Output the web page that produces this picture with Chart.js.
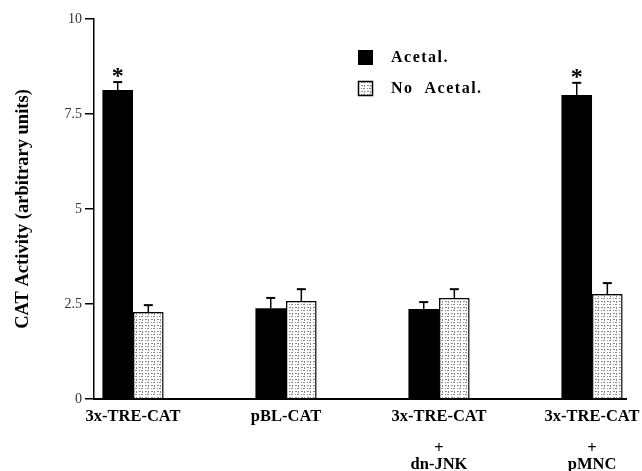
<!DOCTYPE html>
<html>
<head>
<meta charset="utf-8">
<script src="https://cdn.jsdelivr.net/npm/chart.js@4"></script>
<style>
  html, body { margin: 0; padding: 0; background: #fff; }
  #wrap { width: 642px; height: 471px; }
</style>
</head>
<body>
<div id="wrap"><canvas id="c"></canvas></div>
<script>
// Grupos (posição no eixo x linear, 1..4)
const groupPos = [1, 2, 3, 4];
const groupLabels = [
    ['3x-TRE-CAT'],
    ['pBL-CAT'],
    ['3x-TRE-CAT', '', '+', 'dn-JNK'],
    ['3x-TRE-CAT', '', '+', 'pMNC'],
];
const acetalVals = [8.13, 2.39, 2.37, 8.0];
const acetalErr = [8.34, 2.66, 2.55, 8.32];
const noAcetalVals = [2.29, 2.58, 2.66, 2.76];
const noAcetalErr = [2.47, 2.89, 2.89, 3.05];
const asterisks = [true, false, false, true];
const yTicks = [0, 2.5, 5, 7.5, 10];

const SERIF = '"Liberation Serif", "Times New Roman", serif';

// Padrão pontilhado das barras "No Acetal."
function stipple() {
    const t = document.createElement('canvas');
    t.width = 6; t.height = 6;
    const g = t.getContext('2d');
    g.fillStyle = '#fff';
    g.fillRect(0, 0, 6, 6);
    g.fillStyle = '#8a8a8a';
    g.fillRect(1, 1, 2, 1);
    g.fillRect(4, 1, 1, 2);
    g.fillRect(1, 4, 1, 1);
    g.fillRect(3, 4, 2, 1);
    return g.createPattern(t, 'repeat');
}

const toPts = (vals) => vals.map((v, i) => ({ x: groupPos[i], y: v }));

// Barras de erro em "T" + asteriscos
const errorBars = {
    id: 'errorBars',
    afterDatasetsDraw(chart) {
        const ctx = chart.ctx;
        const y = chart.scales.y;
        const errs = [acetalErr, noAcetalErr];
        ctx.save();
        ctx.strokeStyle = '#000';
        chart.data.datasets.forEach((ds, di) => {
            chart.getDatasetMeta(di).data.forEach((el, i) => {
                const top = y.getPixelForValue(errs[di][i]);
                ctx.lineWidth = 1.5;
                ctx.beginPath();
                ctx.moveTo(el.x, el.y);
                ctx.lineTo(el.x, top);
                ctx.stroke();
                ctx.lineWidth = 2;
                ctx.beginPath();
                ctx.moveTo(el.x - 4.5, top);
                ctx.lineTo(el.x + 4.5, top);
                ctx.stroke();
                if (di === 0 && asterisks[i]) {
                    ctx.fillStyle = '#000';
                    ctx.font = 'bold 24px ' + SERIF;
                    ctx.textAlign = 'center';
                    ctx.textBaseline = 'middle';
                    ctx.fillText('*', el.x, top - 5);
                }
            });
        });
        ctx.restore();
    },
};

// Legenda desenhada à mão (dentro da área do gráfico)
const legendBox = {
    id: 'legendBox',
    afterDraw(chart) {
        const ctx = chart.ctx;
        ctx.save();
        ctx.fillStyle = '#000';
        ctx.fillRect(358, 50, 15, 15);
        ctx.fillStyle = stipple();
        ctx.fillRect(358, 81, 15, 15);
        ctx.strokeStyle = '#000';
        ctx.lineWidth = 1.5;
        ctx.strokeRect(358.5, 81.5, 14, 14);
        ctx.fillStyle = '#000';
        ctx.font = 'bold 16px ' + SERIF;
        ctx.letterSpacing = '1.5px';
        ctx.textBaseline = 'middle';
        ctx.fillText('Acetal.', 391, 58);
        ctx.fillText('No  Acetal.', 391, 89);
        ctx.restore();
    },
};

new Chart(document.getElementById('c'), {
    type: 'bar',
    data: {
        datasets: [
            {
                label: 'Acetal.',
                data: toPts(acetalVals),
                backgroundColor: '#000',
                borderWidth: 0,
            },
            {
                label: 'No Acetal.',
                data: toPts(noAcetalVals),
                backgroundColor: stipple(),
                borderColor: '#000',
                borderWidth: 1.5,
                borderSkipped: 'bottom',
            },
        ],
    },
    options: {
        responsive: true,
        maintainAspectRatio: false,
        animation: false,
        categoryPercentage: 0.4,
        barPercentage: 1,
        layout: { padding: { top: 19, right: 16, left: 0, bottom: 0 } },
        plugins: { legend: { display: false }, tooltip: { enabled: false } },
        scales: {
            x: {
                type: 'linear',
                offset: false,
                min: 0.745,
                max: 4.222,
                afterBuildTicks: (s) => { s.ticks = groupPos.map((v) => ({ value: v })); },
                afterFit: (s) => { s.height = 72; s.paddingLeft = 0; s.paddingRight = 0; },
                grid: { display: false, offset: false },
                border: { display: true, color: '#000', width: 2 },
                ticks: {
                    color: '#000',
                    padding: 2,
                    maxRotation: 0,
                    autoSkip: false,
                    font: { family: SERIF, size: 16.5, weight: 'bold', lineHeight: 0.97 },
                    callback: (v) => groupLabels[groupPos.indexOf(v)] || '',
                },
            },
            y: {
                min: 0,
                max: 10,
                afterBuildTicks: (s) => { s.ticks = yTicks.map((v) => ({ value: v })); },
                afterFit: (s) => { s.width = 94; },
                grid: { drawOnChartArea: false, tickLength: 9, color: '#000', lineWidth: 1.5 },
                border: { display: true, color: '#000', width: 1.5 },
                ticks: {
                    color: '#333',
                    padding: 3,
                    font: { family: SERIF, size: 14 },
                },
                title: {
                    display: true,
                    text: 'CAT Activity (arbitrary units)',
                    color: '#000',
                    padding: { top: 12, bottom: 0 },
                    font: { family: SERIF, size: 18.5, weight: 'bold' },
                },
            },
        },
    },
    plugins: [errorBars, legendBox],
});
</script>
</body>
</html>
